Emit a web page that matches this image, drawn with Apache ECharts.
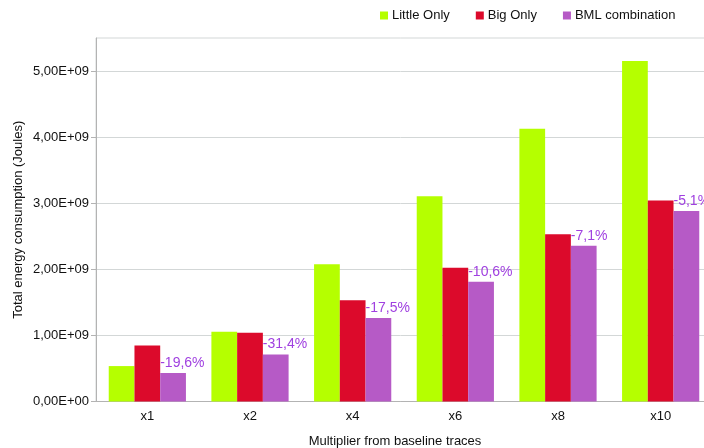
<!DOCTYPE html>
<html>
<head>
<meta charset="utf-8">
<script src="https://cdn.jsdelivr.net/npm/echarts@6/dist/echarts.min.js"></script>
<style>
	html, body { margin: 0; padding: 0; background: #fff; }
	#chart { width: 704px; height: 448px; }
</style>
</head>
<body>
<div id="chart"></div>
<script>
// 数据
var categories = ['x1', 'x2', 'x4', 'x6', 'x8', 'x10'];
var littleOnly = [0.536e9, 1.054e9, 2.077e9, 3.105e9, 4.127e9, 5.152e9];
var bigOnly = [0.849e9, 1.039e9, 1.533e9, 2.024e9, 2.532e9, 3.041e9];
var bmlCombination = [0.431e9, 0.713e9, 1.265e9, 1.813e9, 2.356e9, 2.884e9];
var savingLabels = ['-19,6%', '-31,4%', '-17,5%', '-10,6%', '-7,1%', '-5,1%'];
var yTicks = [0, 1e9, 2e9, 3e9, 4e9, 5e9];

var chart = echarts.init(document.getElementById('chart'));

var font = 'Liberation Sans';

var option = {
	animation: false,
	textStyle: { fontFamily: font },
	legend: {
		top: 9,
		left: 380,
		padding: 0,
		itemWidth: 8,
		itemHeight: 8,
		itemGap: 26,
		icon: 'rect',
		textStyle: { fontFamily: font, fontSize: 13, color: '#111', padding: [0, 0, 0, -1] },
		data: ['Little Only', 'Big Only', 'BML combination']
	},
	title: {
		text: 'Multiplier from baseline traces',
		left: 390,
		top: 430,
		textAlign: 'center',
		textStyle: { fontFamily: font, fontSize: 13, fontWeight: 'normal', color: '#111' }
	},
	grid: {
		show: true,
		borderColor: '#d3d7d7',
		outerBoundsMode: 'none',
		left: 96,
		top: 38,
		right: -8,
		bottom: 46.5
	},
	xAxis: {
		type: 'category',
		data: categories,
		axisLine: { lineStyle: { color: '#b3b3b3' } },
		axisTick: { length: 4, lineStyle: { color: '#b3b3b3' } },
		axisLabel: { fontFamily: font, fontSize: 13, color: '#111', margin: 8 }
	},
	yAxis: {
		type: 'value',
		min: 0,
		max: 5.5e9,
		interval: 1e9,
		name: 'Total energy consumption (Joules)',
		nameLocation: 'middle',
		nameGap: 71,
		nameMoveOverlap: false,
		nameTextStyle: { fontFamily: font, fontSize: 13, color: '#111' },
		axisLine: { show: true, lineStyle: { color: '#b3b3b3' } },
		axisTick: { show: true, length: 5, customValues: yTicks, lineStyle: { color: '#b3b3b3' } },
		splitLine: { lineStyle: { color: '#d3d7d7' } },
		axisLabel: {
			fontFamily: font,
			fontSize: 13,
			color: '#111',
			margin: 7,
			customValues: yTicks,
			formatter: function (v) {
				if (v % 1e9 !== 0) return '';
				if (v === 0) return '0,00E+00';
				return (v / 1e9).toFixed(2).replace('.', ',') + 'E+09';
			}
		}
	},
	series: [{
		name: 'Little Only',
		type: 'bar',
		barGap: '0%',
		barCategoryGap: '24.8%',
		itemStyle: { color: '#b5ff00' },
		data: littleOnly
	}, {
		name: 'Big Only',
		type: 'bar',
		itemStyle: { color: '#dc0a2b' },
		data: bigOnly
	}, {
		name: 'BML combination',
		type: 'bar',
		itemStyle: { color: '#b65ac6' },
		label: {
			show: true,
			position: [0, -10],
			align: 'left',
			verticalAlign: 'middle',
			fontFamily: font,
			fontSize: 14,
			color: '#a040e0',
			formatter: function (p) {
				return savingLabels[p.dataIndex];
			}
		},
		data: bmlCombination
	}]
};

chart.setOption(option);
</script>
</body>
</html>
